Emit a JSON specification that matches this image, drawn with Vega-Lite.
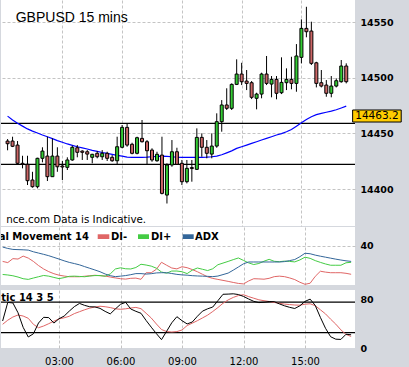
{
"$schema": "https://vega.github.io/schema/vega-lite/v6.json",
"background": "#d5d8de",
"padding": 0,
"config": {
  "view": {"fill": "white", "stroke": null},
  "axis": {"domain": false, "ticks": false, "tickSize": 0, "gridColor": "#c4c4c4", "gridDash": [3, 2], "gridWidth": 1, "labelColor": "black", "labelFont": "DejaVu Sans"}
},
"datasets": {
"bars": [
{"t":0.25,"o":14443.1,"h":14444.9,"l":14434.8,"c":14440.7,"ma":14465.5,"adx":38.6,"dim":24.0,"dip":10.7,"k":44.1,"d":38.7},
{"t":0.5,"o":14443.1,"h":14447.0,"l":14437.7,"c":14438.4,"ma":14462,"adx":37.2,"dim":22.8,"dip":10.2,"k":74.4,"d":45.4},
{"t":0.75,"o":14439.5,"h":14443.1,"l":14422.2,"c":14423.1,"ma":14459,"adx":36.2,"dim":26.8,"dip":9.4,"k":73.6,"d":50.6},
{"t":1.0,"o":14423.1,"h":14429.9,"l":14418.6,"c":14422.2,"ma":14456.5,"adx":36.0,"dim":26.4,"dip":8.1,"k":57.6,"d":53.9},
{"t":1.25,"o":14422.2,"h":14429.9,"l":14403.6,"c":14407.5,"ma":14454,"adx":35.8,"dim":29.4,"dip":6.4,"k":33.8,"d":52.2},
{"t":1.5,"o":14408.1,"h":14415.5,"l":14401.2,"c":14402.1,"ma":14452,"adx":35.5,"dim":27.4,"dip":5.7,"k":18.0,"d":48.5},
{"t":1.75,"o":14402.1,"h":14428.1,"l":14400.6,"c":14427.6,"ma":14450.3,"adx":33.8,"dim":24.0,"dip":7.1,"k":23.2,"d":38.7},
{"t":2.0,"o":14427.6,"h":14437.5,"l":14424.0,"c":14434.1,"ma":14448.5,"adx":32.5,"dim":19.8,"dip":8.4,"k":40.8,"d":33.1},
{"t":2.25,"o":14429.6,"h":14447.0,"l":14407.2,"c":14411.1,"ma":14447,"adx":31.2,"dim":16.3,"dip":9.7,"k":50.1,"d":35.9},
{"t":2.5,"o":14411.1,"h":14445.5,"l":14410.8,"c":14429.6,"ma":14445.3,"adx":29.8,"dim":13.6,"dip":9.0,"k":49.6,"d":39.7},
{"t":2.75,"o":14429.6,"h":14437.5,"l":14415.5,"c":14420.0,"ma":14443.5,"adx":28.1,"dim":11.5,"dip":7.7,"k":40.7,"d":43.8},
{"t":3.0,"o":14420.7,"h":14425.2,"l":14408.1,"c":14419.8,"ma":14442,"adx":26.4,"dim":10.0,"dip":6.5,"k":47.8,"d":47.5},
{"t":3.25,"o":14419.5,"h":14428.5,"l":14417.1,"c":14426.1,"ma":14440.5,"adx":24.6,"dim":9.1,"dip":7.5,"k":52.1,"d":49.3},
{"t":3.5,"o":14426.1,"h":14438.9,"l":14425.4,"c":14437.5,"ma":14439.2,"adx":23.0,"dim":8.4,"dip":8.8,"k":60.2,"d":51.8},
{"t":3.75,"o":14437.1,"h":14439.5,"l":14428.5,"c":14433.0,"ma":14438,"adx":21.8,"dim":8.4,"dip":9.0,"k":67.6,"d":56.2},
{"t":4.0,"o":14434.1,"h":14434.8,"l":14426.1,"c":14433.0,"ma":14437,"adx":20.5,"dim":8.4,"dip":8.7,"k":72.8,"d":59.3},
{"t":4.25,"o":14433.5,"h":14435.0,"l":14426.1,"c":14431.4,"ma":14436,"adx":18.7,"dim":8.9,"dip":8.4,"k":69.6,"d":62.4},
{"t":4.5,"o":14428.5,"h":14431.6,"l":14423.1,"c":14431.2,"ma":14434.8,"adx":17.0,"dim":9.4,"dip":9.1,"k":67.3,"d":65.1},
{"t":4.75,"o":14432.1,"h":14434.1,"l":14427.6,"c":14429.0,"ma":14433.8,"adx":15.3,"dim":9.9,"dip":9.6,"k":67.1,"d":66.9},
{"t":5.0,"o":14429.0,"h":14435.0,"l":14426.1,"c":14432.1,"ma":14432.8,"adx":13.5,"dim":9.5,"dip":9.6,"k":64.7,"d":68.2},
{"t":5.25,"o":14432.1,"h":14433.5,"l":14425.2,"c":14427.6,"ma":14432,"adx":11.2,"dim":9.1,"dip":8.9,"k":59.8,"d":67.4},
{"t":5.5,"o":14428.5,"h":14430.5,"l":14424.5,"c":14425.4,"ma":14431.2,"adx":9.5,"dim":8.1,"dip":11.3,"k":55.7,"d":66.0},
{"t":5.75,"o":14425.4,"h":14447.0,"l":14422.2,"c":14438.0,"ma":14430.3,"adx":8.5,"dim":7.2,"dip":16.3,"k":63.8,"d":64.0},
{"t":6.0,"o":14437.5,"h":14457.5,"l":14436.6,"c":14455.4,"ma":14429.5,"adx":9.0,"dim":6.4,"dip":17.5,"k":71.3,"d":63.2},
{"t":6.25,"o":14455.4,"h":14459.0,"l":14438.0,"c":14439.5,"ma":14428.7,"adx":9.6,"dim":6.0,"dip":16.5,"k":74.6,"d":64.0},
{"t":6.5,"o":14440.2,"h":14441.6,"l":14431.2,"c":14432.1,"ma":14428.5,"adx":10.5,"dim":6.8,"dip":16.3,"k":63.7,"d":65.3},
{"t":6.75,"o":14432.1,"h":14447.0,"l":14431.2,"c":14446.1,"ma":14428.4,"adx":11.6,"dim":7.0,"dip":17.8,"k":59.9,"d":66.3},
{"t":7.0,"o":14445.5,"h":14462.0,"l":14441.8,"c":14442.5,"ma":14428.4,"adx":11.6,"dim":5.8,"dip":21.1,"k":56.7,"d":64.2},
{"t":7.25,"o":14442.5,"h":14444.0,"l":14422.2,"c":14434.4,"ma":14428.6,"adx":11.1,"dim":12.5,"dip":20.3,"k":44.9,"d":56.7},
{"t":7.5,"o":14435.0,"h":14436.6,"l":14424.5,"c":14426.1,"ma":14429,"adx":11.5,"dim":12.5,"dip":19.2,"k":34.0,"d":49.0},
{"t":7.75,"o":14425.4,"h":14433.5,"l":14424.5,"c":14431.2,"ma":14429.4,"adx":12.3,"dim":16.0,"dip":17.1,"k":23.5,"d":39.2},
{"t":8.0,"o":14430.5,"h":14447.0,"l":14395.2,"c":14396.1,"ma":14429.6,"adx":12.5,"dim":23.1,"dip":13.2,"k":13.6,"d":30.2},
{"t":8.25,"o":14394.6,"h":14423.1,"l":14387.0,"c":14421.6,"ma":14429.4,"adx":12.5,"dim":20.1,"dip":12.0,"k":27.3,"d":26.8},
{"t":8.5,"o":14421.6,"h":14444.0,"l":14420.0,"c":14433.5,"ma":14429,"adx":11.7,"dim":17.3,"dip":14.2,"k":41.1,"d":26.1},
{"t":8.75,"o":14433.5,"h":14437.1,"l":14421.6,"c":14422.2,"ma":14428.7,"adx":10.8,"dim":16.4,"dip":14.2,"k":51.1,"d":26.8},
{"t":9.0,"o":14423.1,"h":14426.1,"l":14403.6,"c":14406.6,"ma":14428.5,"adx":10.3,"dim":18.6,"dip":13.5,"k":44.6,"d":29.4},
{"t":9.25,"o":14406.6,"h":14426.1,"l":14405.1,"c":14418.6,"ma":14428.4,"adx":10.0,"dim":17.6,"dip":11.6,"k":39.3,"d":36.7},
{"t":9.5,"o":14419.3,"h":14426.1,"l":14406.6,"c":14418.4,"ma":14428.4,"adx":9.5,"dim":15.7,"dip":15.1,"k":42.4,"d":40.5},
{"t":9.75,"o":14417.7,"h":14454.5,"l":14417.1,"c":14446.4,"ma":14428.5,"adx":9.2,"dim":13.5,"dip":17.3,"k":51.8,"d":44.6},
{"t":10.0,"o":14446.4,"h":14450.0,"l":14429.0,"c":14437.5,"ma":14428.5,"adx":9.0,"dim":10.9,"dip":16.0,"k":60.2,"d":49.1},
{"t":10.25,"o":14437.5,"h":14444.0,"l":14427.6,"c":14432.1,"ma":14428.6,"adx":8.8,"dim":8.3,"dip":14.7,"k":64.0,"d":53.7},
{"t":10.5,"o":14431.4,"h":14450.0,"l":14427.6,"c":14438.6,"ma":14429,"adx":8.5,"dim":6.7,"dip":16.5,"k":66.9,"d":59.6},
{"t":10.75,"o":14438.6,"h":14468.0,"l":14437.1,"c":14460.5,"ma":14429.6,"adx":9.1,"dim":5.7,"dip":20.6,"k":77.2,"d":66.0},
{"t":11.0,"o":14460.5,"h":14479.9,"l":14451.5,"c":14475.5,"ma":14430.8,"adx":10.6,"dim":4.7,"dip":22.3,"k":87.7,"d":73.0},
{"t":11.25,"o":14475.5,"h":14490.5,"l":14471.0,"c":14472.5,"ma":14432.5,"adx":12.1,"dim":3.7,"dip":24.0,"k":88.0,"d":78.5},
{"t":11.5,"o":14472.5,"h":14494.9,"l":14471.0,"c":14494.0,"ma":14434.3,"adx":15.1,"dim":2.6,"dip":25.8,"k":88.5,"d":82.6},
{"t":11.75,"o":14494.0,"h":14516.5,"l":14493.4,"c":14503.3,"ma":14436.5,"adx":18.3,"dim":1.6,"dip":27.5,"k":87.3,"d":85.6},
{"t":12.0,"o":14503.3,"h":14513.4,"l":14493.4,"c":14496.4,"ma":14438,"adx":21.6,"dim":1.1,"dip":25.0,"k":84.2,"d":87.0},
{"t":12.25,"o":14497.0,"h":14506.9,"l":14488.9,"c":14494.9,"ma":14439.5,"adx":23.4,"dim":4.1,"dip":22.5,"k":80.0,"d":83.9},
{"t":12.5,"o":14495.5,"h":14497.0,"l":14480.8,"c":14482.4,"ma":14441,"adx":23.4,"dim":6.4,"dip":20.8,"k":76.2,"d":81.3},
{"t":12.75,"o":14481.5,"h":14486.5,"l":14471.6,"c":14485.3,"ma":14442.5,"adx":23.4,"dim":6.2,"dip":21.9,"k":74.1,"d":78.7},
{"t":13.0,"o":14485.3,"h":14504.5,"l":14481.5,"c":14503.3,"ma":14444,"adx":23.4,"dim":5.9,"dip":24.2,"k":74.8,"d":77.2},
{"t":13.25,"o":14503.3,"h":14519.5,"l":14493.4,"c":14494.9,"ma":14445.5,"adx":23.4,"dim":6.8,"dip":26.1,"k":75.9,"d":75.9},
{"t":13.5,"o":14494.3,"h":14501.5,"l":14482.4,"c":14498.5,"ma":14447,"adx":23.4,"dim":8.5,"dip":24.1,"k":75.6,"d":74.4},
{"t":13.75,"o":14498.5,"h":14501.5,"l":14480.6,"c":14486.0,"ma":14448.5,"adx":23.4,"dim":9.0,"dip":23.7,"k":72.0,"d":73.0},
{"t":14.0,"o":14486.5,"h":14518.3,"l":14485.3,"c":14495.8,"ma":14449.8,"adx":23.8,"dim":8.5,"dip":24.3,"k":68.9,"d":71.7},
{"t":14.25,"o":14495.5,"h":14508.4,"l":14488.9,"c":14498.5,"ma":14451.5,"adx":24.8,"dim":7.2,"dip":24.0,"k":66.4,"d":70.9},
{"t":14.5,"o":14498.5,"h":14518.8,"l":14489.6,"c":14494.9,"ma":14453.5,"adx":25.9,"dim":5.5,"dip":23.5,"k":64.5,"d":70.2},
{"t":14.75,"o":14494.9,"h":14530.2,"l":14487.4,"c":14519.5,"ma":14456.5,"adx":28.8,"dim":2.8,"dip":25.5,"k":68.9,"d":69.9},
{"t":15.0,"o":14518.3,"h":14552.4,"l":14512.9,"c":14544.3,"ma":14459.5,"adx":32.3,"dim":0.7,"dip":28.3,"k":76.1,"d":71.5},
{"t":15.25,"o":14544.3,"h":14563.7,"l":14536.3,"c":14541.3,"ma":14462.5,"adx":31.8,"dim":1.8,"dip":27.1,"k":79.8,"d":72.2},
{"t":15.5,"o":14541.9,"h":14550.3,"l":14511.4,"c":14512.9,"ma":14465,"adx":30.4,"dim":8.8,"dip":24.8,"k":69.4,"d":69.1},
{"t":15.75,"o":14513.4,"h":14514.3,"l":14491.3,"c":14494.9,"ma":14466.8,"adx":29.3,"dim":14.0,"dip":23.0,"k":50.0,"d":62.4},
{"t":16.0,"o":14495.5,"h":14506.9,"l":14491.3,"c":14492.5,"ma":14468,"adx":28.3,"dim":13.1,"dip":21.4,"k":32.2,"d":55.7},
{"t":16.25,"o":14493.4,"h":14497.9,"l":14482.9,"c":14486.0,"ma":14469,"adx":27.3,"dim":12.5,"dip":20.1,"k":18.4,"d":47.0},
{"t":16.5,"o":14486.0,"h":14501.5,"l":14482.4,"c":14492.5,"ma":14470,"adx":26.3,"dim":12.5,"dip":20.1,"k":14.4,"d":39.0},
{"t":16.75,"o":14492.5,"h":14499.4,"l":14491.3,"c":14497.3,"ma":14471.2,"adx":25.4,"dim":12.5,"dip":20.1,"k":14.0,"d":29.6},
{"t":17.0,"o":14496.4,"h":14515.9,"l":14495.5,"c":14510.5,"ma":14472.8,"adx":24.6,"dim":11.9,"dip":22.6,"k":22.4,"d":22.2},
{"t":17.25,"o":14510.5,"h":14512.9,"l":14494.9,"c":14496.4,"ma":14474.5,"adx":24.0,"dim":10.9,"dip":23.1,"k":21.6,"d":18.8}
]
},
"spacing": 1,
"vconcat": [
{
  "width": 354, "height": 226,
  "data": {"name": "bars"},
  "layer": [
    {"data": {"values": [{}]}, "mark": {"type": "rule", "color": "black", "strokeWidth": 1.3},
     "encoding": {"y": {"datum": 14459.0, "type": "quantitative", "scale": {"domain": [14366.8, 14569.8], "nice": false, "zero": false}}}},
    {"data": {"values": [{}]}, "mark": {"type": "rule", "color": "black", "strokeWidth": 1.3},
     "encoding": {"y": {"datum": 14422.2, "type": "quantitative", "scale": {"domain": [14366.8, 14569.8], "nice": false, "zero": false}}}},
    {"mark": {"type": "line", "color": "#0000ff", "strokeWidth": 1.2, "clip": true},
     "encoding": {
       "x": {"field": "t", "type": "quantitative", "title": null, "scale": {"domain": [0.1707, 17.439], "nice": false, "zero": false},
             "axis": {"orient": "bottom", "values": [3, 6, 9, 12, 15], "labels": false, "grid": true}},
       "y": {"field": "ma", "type": "quantitative", "title": null, "scale": {"domain": [14366.8, 14569.8], "nice": false, "zero": false},
             "axis": {"orient": "right", "values": [14400, 14450, 14500, 14550], "format": "d", "grid": true, "labelFontWeight": "bold", "labelFontSize": 9.5, "labelPadding": 5}}}},
    {"mark": {"type": "rule", "color": "black", "strokeWidth": 1, "clip": true},
     "encoding": {
       "x": {"field": "t", "type": "quantitative", "title": null, "scale": {"domain": [0.1707, 17.439], "nice": false, "zero": false}},
       "y": {"field": "l", "type": "quantitative", "title": null, "scale": {"domain": [14366.8, 14569.8], "nice": false, "zero": false}},
       "y2": {"field": "h"}}},
    {"mark": {"type": "bar", "size": 3, "stroke": "black", "strokeWidth": 1, "clip": true},
     "encoding": {
       "x": {"field": "t", "type": "quantitative", "title": null, "scale": {"domain": [0.1707, 17.439], "nice": false, "zero": false}},
       "y": {"field": "o", "type": "quantitative", "title": null, "scale": {"domain": [14366.8, 14569.8], "nice": false, "zero": false}},
       "y2": {"field": "c"},
       "color": {"condition": {"test": "datum.c >= datum.o", "value": "#33cc33"}, "value": "#cc6666"}}},
    {"data": {"values": [{}]}, "mark": {"type": "text", "text": "GBPUSD 15 mins", "align": "left", "baseline": "alphabetic", "font": "Liberation Sans", "fontSize": 14, "color": "black"},
     "encoding": {"x": {"datum": 0.6585, "type": "quantitative"}, "y": {"datum": 14550.3, "type": "quantitative"}}},
    {"data": {"values": [{}]}, "mark": {"type": "text", "text": "nce.com Data is Indicative.", "align": "left", "baseline": "alphabetic", "font": "DejaVu Sans", "fontSize": 10.3, "color": "black", "clip": true},
     "encoding": {"x": {"datum": 0.18, "type": "quantitative"}, "y": {"datum": 14369.2, "type": "quantitative"}}},
    {"data": {"values": [{}]}, "mark": {"type": "rect", "fill": "#ffcc00", "stroke": "black", "strokeWidth": 1},
     "encoding": {"x": {"datum": 17.571, "type": "quantitative"}, "x2": {"datum": 20.01}, "y": {"datum": 14471.0, "type": "quantitative"}, "y2": {"datum": 14460.2}}},
    {"data": {"values": [{}]}, "mark": {"type": "text", "text": "14463.2", "align": "center", "baseline": "middle", "font": "DejaVu Sans", "fontSize": 10.5, "color": "black"},
     "encoding": {"x": {"datum": 18.79, "type": "quantitative"}, "y": {"datum": 14465.6, "type": "quantitative"}}}
  ]
},
{
  "spacing": 5,
  "vconcat": [
  {
    "width": 354, "height": 58,
    "data": {"name": "bars"},
    "layer": [
      {"mark": {"type": "line", "color": "#e06666", "strokeWidth": 1, "clip": true},
       "encoding": {
         "x": {"field": "t", "type": "quantitative", "title": null, "scale": {"domain": [0.1707, 17.439], "nice": false, "zero": false},
               "axis": {"orient": "bottom", "values": [3, 6, 9, 12, 15], "labels": false, "grid": true}},
         "y": {"field": "dim", "type": "quantitative", "title": null, "scale": {"domain": [0, 59], "nice": false},
               "axis": {"orient": "right", "values": [40], "grid": true, "labelFontWeight": "bold", "labelFontSize": 9.5, "labelPadding": 5}}}},
      {"mark": {"type": "line", "color": "#44cc44", "strokeWidth": 1, "clip": true},
       "encoding": {
         "x": {"field": "t", "type": "quantitative", "title": null, "scale": {"domain": [0.1707, 17.439], "nice": false, "zero": false}},
         "y": {"field": "dip", "type": "quantitative", "title": null, "scale": {"domain": [0, 59], "nice": false}}}},
      {"mark": {"type": "line", "color": "#336699", "strokeWidth": 1, "clip": true},
       "encoding": {
         "x": {"field": "t", "type": "quantitative", "title": null, "scale": {"domain": [0.1707, 17.439], "nice": false, "zero": false}},
         "y": {"field": "adx", "type": "quantitative", "title": null, "scale": {"domain": [0, 59], "nice": false}}}},
      {"data": {"values": [{}]}, "mark": {"type": "text", "text": "Directional Movement 14", "align": "right", "baseline": "middle", "font": "DejaVu Sans", "fontWeight": "bold", "fontSize": 10, "color": "black", "clip": true},
       "encoding": {"x": {"datum": 4.463, "type": "quantitative"}, "y": {"datum": 49.2, "type": "quantitative"}}},
      {"data": {"values": [{}]}, "mark": {"type": "rect", "fill": "#e06666"},
       "encoding": {"x": {"datum": 4.888, "type": "quantitative"}, "x2": {"datum": 5.454}, "y": {"datum": 51.6, "type": "quantitative"}, "y2": {"datum": 46.8}}},
      {"data": {"values": [{}]}, "mark": {"type": "text", "text": "DI-", "align": "left", "baseline": "middle", "font": "DejaVu Sans", "fontWeight": "bold", "fontSize": 10, "color": "black"},
       "encoding": {"x": {"datum": 5.537, "type": "quantitative"}, "y": {"datum": 49.2, "type": "quantitative"}}},
      {"data": {"values": [{}]}, "mark": {"type": "rect", "fill": "#44cc44"},
       "encoding": {"x": {"datum": 6.854, "type": "quantitative"}, "x2": {"datum": 7.39}, "y": {"datum": 51.6, "type": "quantitative"}, "y2": {"datum": 46.8}}},
      {"data": {"values": [{}]}, "mark": {"type": "text", "text": "DI+", "align": "left", "baseline": "middle", "font": "DejaVu Sans", "fontWeight": "bold", "fontSize": 10, "color": "black"},
       "encoding": {"x": {"datum": 7.488, "type": "quantitative"}, "y": {"datum": 49.2, "type": "quantitative"}}},
      {"data": {"values": [{}]}, "mark": {"type": "rect", "fill": "#336699"},
       "encoding": {"x": {"datum": 9.034, "type": "quantitative"}, "x2": {"datum": 9.571}, "y": {"datum": 51.6, "type": "quantitative"}, "y2": {"datum": 46.8}}},
      {"data": {"values": [{}]}, "mark": {"type": "text", "text": "ADX", "align": "left", "baseline": "middle", "font": "DejaVu Sans", "fontWeight": "bold", "fontSize": 10, "color": "black"},
       "encoding": {"x": {"datum": 9.634, "type": "quantitative"}, "y": {"datum": 49.2, "type": "quantitative"}}}
    ]
  },
  {
    "width": 354, "height": 58,
    "data": {"name": "bars"},
    "layer": [
      {"data": {"values": [{}]}, "mark": {"type": "rect", "fill": "white", "opacity": 0},
       "encoding": {"x": {"datum": 0.1707, "type": "quantitative", "scale": {"domain": [0.1707, 17.439], "nice": false, "zero": false}}, "x2": {"datum": 20.1}, "y": {"datum": 0, "type": "quantitative", "scale": {"domain": [0, 94.7], "nice": false}}, "y2": {"datum": -30.9}}},
      {"data": {"values": [{}]}, "mark": {"type": "rule", "color": "black", "strokeWidth": 1.3},
       "encoding": {"y": {"datum": 75, "type": "quantitative", "scale": {"domain": [0, 94.7], "nice": false}}}},
      {"data": {"values": [{}]}, "mark": {"type": "rule", "color": "black", "strokeWidth": 1.3},
       "encoding": {"y": {"datum": 25, "type": "quantitative", "scale": {"domain": [0, 94.7], "nice": false}}}},
      {"mark": {"type": "line", "color": "#e06666", "strokeWidth": 1, "clip": true},
       "encoding": {
         "x": {"field": "t", "type": "quantitative", "title": null, "scale": {"domain": [0.1707, 17.439], "nice": false, "zero": false},
               "axis": {"orient": "bottom", "values": [3, 6, 9, 12, 15], "grid": true, "labelExpr": "(datum.value < 10 ? '0' : '') + datum.value + ':00'", "labelFontSize": 10, "labelPadding": 8, "labelFlush": false}},
         "y": {"field": "d", "type": "quantitative", "title": null, "scale": {"domain": [0, 94.7], "nice": false},
               "axis": {"orient": "right", "values": [0, 80], "grid": false, "labelFontWeight": "bold", "labelFontSize": 9.5, "labelPadding": 5}}}},
      {"mark": {"type": "line", "color": "black", "strokeWidth": 1, "clip": true},
       "encoding": {
         "x": {"field": "t", "type": "quantitative", "title": null, "scale": {"domain": [0.1707, 17.439], "nice": false, "zero": false}},
         "y": {"field": "k", "type": "quantitative", "title": null, "scale": {"domain": [0, 94.7], "nice": false}}}},
      {"data": {"values": [{}]}, "mark": {"type": "text", "text": "Stochastic 14 3 5", "align": "right", "baseline": "middle", "font": "DejaVu Sans", "fontWeight": "bold", "fontSize": 10, "color": "black", "clip": true},
       "encoding": {"x": {"datum": 2.741, "type": "quantitative"}, "y": {"datum": 81, "type": "quantitative"}}}
    ]
  }
  ]
}
]
}
